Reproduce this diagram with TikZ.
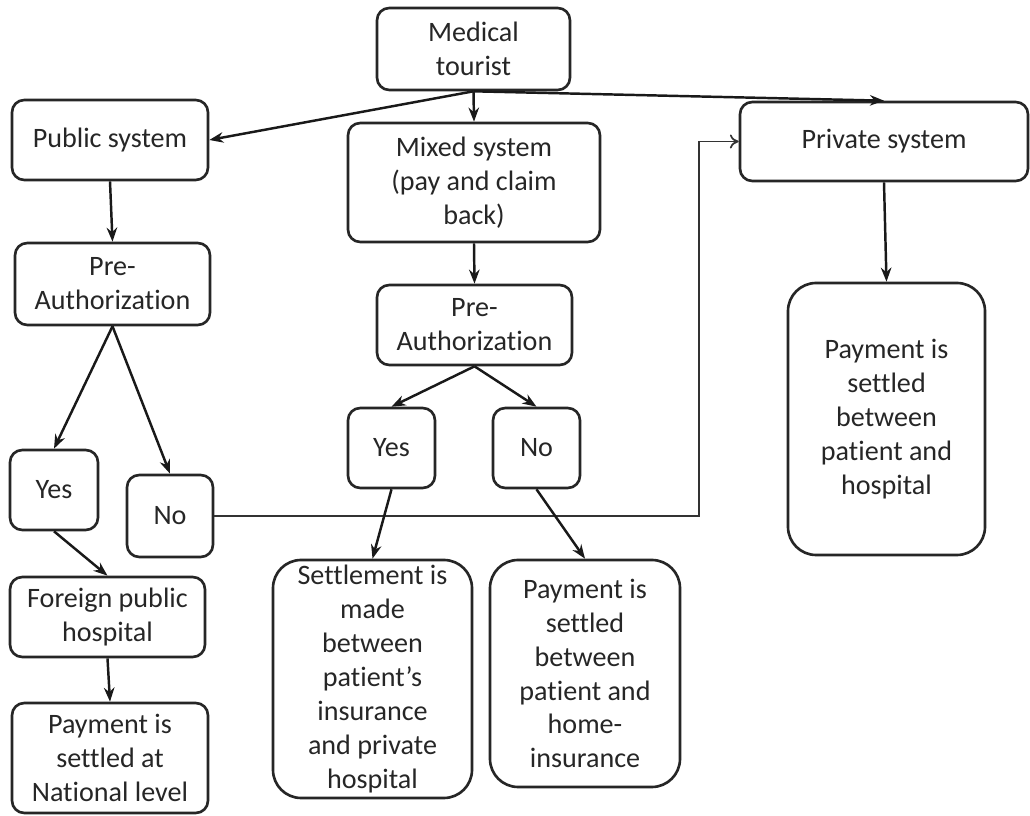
\documentclass[tikz,border=0pt]{standalone}
\usepackage{fontspec}
\setmainfont{Carlito}[RawFeature={-liga;-clig;-calt;-dlig}]
\usetikzlibrary{arrows.meta}

\begin{document}
\begin{tikzpicture}[
    font=\fontsize{16}{19.3}\selectfont,
    box/.style={
        draw=black!85,
        text=black!85,
        rounded corners=7pt,
        line width=1.5pt,
        inner sep=0pt,
        align=center
    },
    bigbox/.style={box, rounded corners=16pt},
    arrow/.style={-{Stealth[length=8pt,width=6pt]}, line width=1.4pt, black!90},
    thinarrow/.style={-{To[length=5pt,width=8pt]}, line width=1pt, black!80}
]
\useasboundingbox (0,0) rectangle (20.6,-16.32);

% ============================================================
% NODES
% ============================================================
\node[box] (tourist) at ( 9.47, -0.98) [minimum width=3.86cm, minimum height=1.64cm] {Medical\\tourist};

% three systems
\node[box] (pubsys)  at ( 2.20, -2.80) [minimum width=3.92cm, minimum height=1.60cm] {Public system};
\node[box] (mixsys)  at ( 9.48, -3.65) [minimum width=5.04cm, minimum height=2.38cm] {Mixed system\\(pay and claim\\back)};
\node[box] (privsys) at (17.68, -2.83) [minimum width=5.76cm, minimum height=1.58cm] {Private system};

% public branch
\node[box] (preL)    at ( 2.25, -5.68) [minimum width=3.90cm, minimum height=1.64cm] {Pre-\\Authorization};
\node[box] (yesL)    at ( 1.08, -9.80) [minimum width=1.76cm, minimum height=1.60cm] {Yes};
\node[box] (noL)     at ( 3.40,-10.32) [minimum width=1.72cm, minimum height=1.64cm] {No};
\node[box] (foreign) at ( 2.15,-12.34) [minimum width=3.90cm, minimum height=1.60cm] {Foreign public\\hospital};
\node[box] (natl)    at ( 2.20,-15.16) [minimum width=3.92cm, minimum height=2.20cm] {Payment is\\settled at\\National level};

% mixed branch
\node[box] (preM)    at ( 9.49, -6.50) [minimum width=3.90cm, minimum height=1.60cm] {Pre-\\Authorization};
\node[box] (yesM)    at ( 7.83, -8.96) [minimum width=1.74cm, minimum height=1.60cm] {Yes};
\node[box] (noM)     at (10.73, -8.96) [minimum width=1.74cm, minimum height=1.60cm] {No};
\node[bigbox] (settle)  at ( 7.45,-13.58) [minimum width=3.98cm, minimum height=4.76cm]
    {Settlement is\\made\\between\\patient’s\\insurance\\and private\\hospital};
\node[bigbox] (payhome) at (11.70,-13.47) [minimum width=3.80cm, minimum height=4.54cm]
    {Payment is\\settled\\between\\patient and\\home-\\insurance};

% private branch
\node[bigbox] (payprv)  at (17.73, -8.38) [minimum width=3.94cm, minimum height=5.44cm]
    {Payment is\\settled\\between\\patient and\\hospital};

\coordinate (bend) at (13.98, -2.83);

% ============================================================
% EDGES
% ============================================================
\draw[arrow] (tourist.south) -- (pubsys.east);
\draw[arrow] (tourist.south) -- (mixsys.north);
\draw[arrow] (tourist.south) -- (privsys.north);

\draw[arrow] (pubsys.south) -- (preL.north);
\draw[arrow] (preL.south) -- (yesL.north);
\draw[arrow] (preL.south) -- (noL.north);
\draw[arrow] (yesL.south) -- (foreign.north);
\draw[arrow] (foreign.south) -- (natl.north);
\draw[thinarrow] (noL.east) -| (bend) -- (privsys.west);

\draw[arrow] (mixsys.south) -- (preM.north);
\draw[arrow] (preM.south) -- (yesM.north);
\draw[arrow] (preM.south) -- (noM.north);
\draw[arrow] (yesM.south) -- (settle.north);
\draw[arrow] (noM.south) -- (payhome.north);

\draw[arrow] (privsys.south) -- (payprv.north);

\end{tikzpicture}
\end{document}
